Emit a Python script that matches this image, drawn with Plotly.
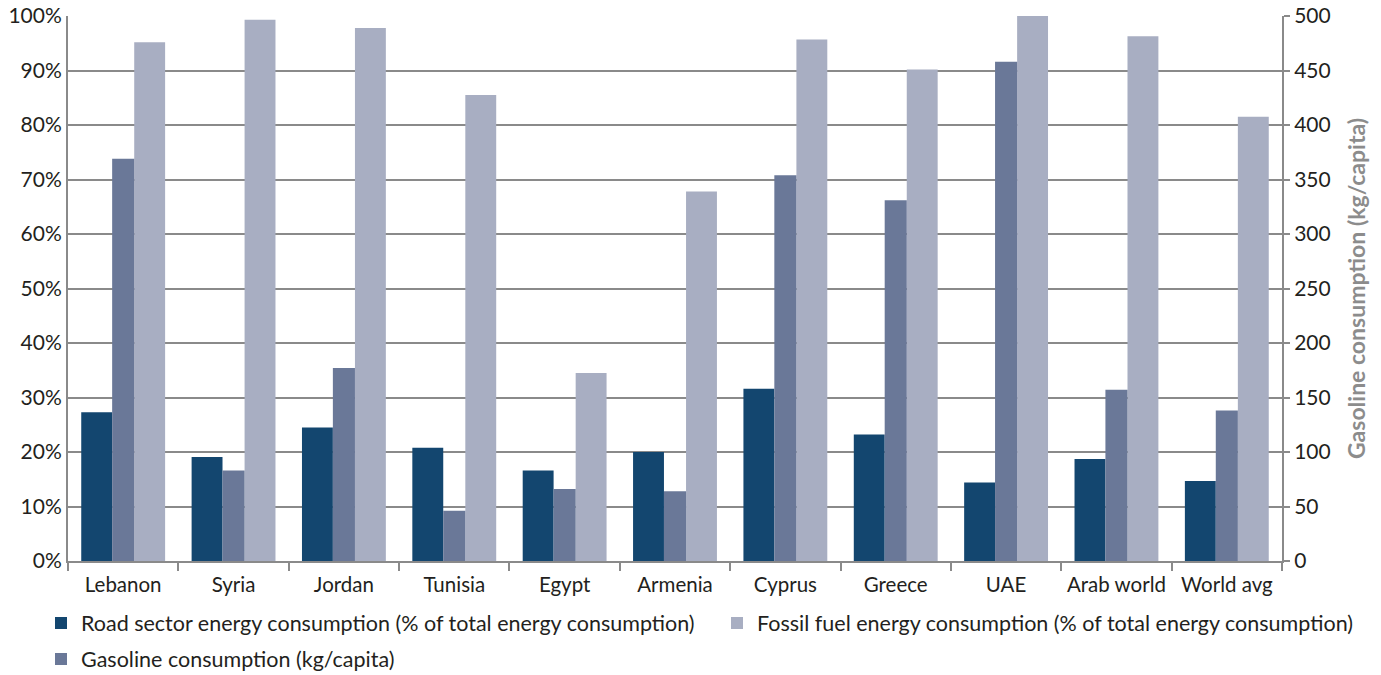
import plotly.graph_objects as go

categories = ["Lebanon", "Syria", "Jordan", "Tunisia", "Egypt", "Armenia",
              "Cyprus", "Greece", "UAE", "Arab world", "World avg"]
road_pct = [27.3, 19.1, 24.5, 20.8, 16.6, 20.0, 31.6, 23.2, 14.4, 18.7, 14.7]
gasoline_kg = [369, 83, 177, 46, 66, 64, 354, 331, 458, 157, 138]
fossil_pct = [95.2, 99.3, 97.8, 85.5, 34.5, 67.8, 95.7, 90.2, 100, 96.3, 81.5]

left_ticks = [0, 10, 20, 30, 40, 50, 60, 70, 80, 90, 100]
right_ticks = [0, 50, 100, 150, 200, 250, 300, 350, 400, 450, 500]

FONT = "Lato"
TXT = "#231f20"
GRID = "#8a8a8a"
W, H = 1381, 675

fig = go.Figure()
fig.add_trace(go.Bar(
    x=categories, y=road_pct, name="Road sector energy consumption (% of total energy consumption)",
    marker=dict(color="#13466F", line=dict(width=0)), width=0.28, offset=-0.38,
    legend="legend", yaxis="y"))
fig.add_trace(go.Bar(
    x=categories, y=gasoline_kg, name="Gasoline consumption (kg/capita)",
    marker=dict(color="#6A7898", line=dict(width=0)), width=0.2, offset=-0.10,
    legend="legend3", yaxis="y2"))
fig.add_trace(go.Bar(
    x=categories, y=fossil_pct, name="Fossil fuel energy consumption (% of total energy consumption)",
    marker=dict(color="#A8AEC2", line=dict(width=0)), width=0.28, offset=0.10,
    legend="legend2", yaxis="y"))

def leg(xpx, ypx):
    return dict(xref="container", yref="container", x=xpx / W, y=1 - ypx / H,
                xanchor="left", yanchor="middle", orientation="h",
                font=dict(family=FONT, size=21.5, color=TXT),
                bgcolor="rgba(0,0,0,0)", borderwidth=0, itemwidth=30)

fig.update_layout(
    width=W, height=H,
    margin=dict(l=68, r=99, t=16, b=114, autoexpand=False),
    paper_bgcolor="white", plot_bgcolor="white",
    barmode="overlay",
    font=dict(family=FONT, size=21, color=TXT),
    xaxis=dict(
        type="category", showline=True, linecolor=GRID, linewidth=2,
        ticks="outside", tickson="boundaries", ticklen=8, tickcolor=GRID, tickwidth=1.5,
        showgrid=False, tickangle=0, ticklabelstandoff=4,
        tickfont=dict(size=20.5, color=TXT)),
    yaxis=dict(
        range=[0, 100], tickvals=left_ticks, ticktext=[f"{v}%" for v in left_ticks],
        showline=True, linecolor=GRID, linewidth=2, showgrid=True, gridcolor=GRID,
        gridwidth=1.5, zeroline=False, ticks="", tickfont=dict(size=21, color=TXT)),
    yaxis2=dict(
        overlaying="y", side="right", range=[0, 500], tickvals=right_ticks,
        showline=True, linecolor=GRID, linewidth=2, showgrid=False, zeroline=False,
        ticks="outside", ticklen=6, tickcolor=GRID, tickwidth=1.5,
        tickfont=dict(size=21, color=TXT),
        title=dict(text="<b>Gasoline consumption (kg/capita)</b>",
                   font=dict(size=23, color="#8c8c8c"), standoff=19)),
    legend=leg(41, 623),
    legend2=leg(717, 623),
    legend3=leg(41, 659),
    showlegend=True,
)

fig.write_html("out.html")
